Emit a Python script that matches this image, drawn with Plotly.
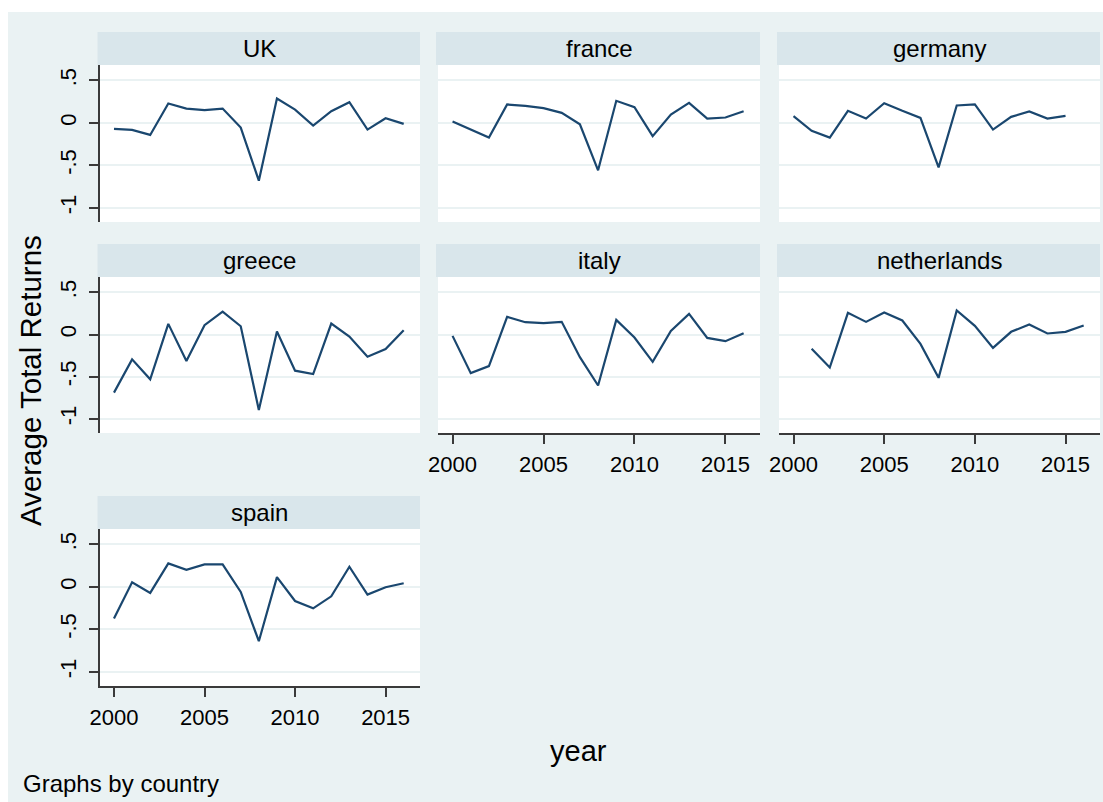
import plotly.graph_objects as go

# Average total returns by country and year
years = list(range(2000, 2017))

uk = [-0.071, -0.083, -0.142, 0.228, 0.169, 0.150, 0.169, -0.055, -0.681,
      0.287, 0.157, -0.031, 0.138, 0.244, -0.079, 0.055, -0.012]
france = [0.016, -0.079, -0.173, 0.217, 0.200, 0.173, 0.118, -0.016, -0.559,
          0.260, 0.185, -0.157, 0.098, 0.236, 0.051, 0.063, 0.138]
germany = [0.079, -0.094, -0.173, 0.142, 0.051, 0.232, 0.142, 0.059, -0.524,
           0.205, 0.217, -0.079, 0.071, 0.134, 0.051, 0.083, None]
greece = [-0.689, -0.295, -0.531, 0.126, -0.315, 0.110, 0.272, 0.098, -0.894,
          0.035, -0.429, -0.469, 0.130, -0.024, -0.264, -0.173, 0.051]
italy = [-0.016, -0.458, -0.375, 0.209, 0.146, 0.134, 0.150, -0.269, -0.605,
         0.174, -0.036, -0.324, 0.043, 0.245, -0.040, -0.079, 0.016]
netherlands = [None, -0.170, -0.391, 0.257, 0.150, 0.261, 0.166, -0.111, -0.514,
               0.285, 0.103, -0.158, 0.032, 0.119, 0.012, 0.032, 0.107]
spain = [-0.372, 0.055, -0.071, 0.277, 0.202, 0.265, 0.265, -0.059, -0.640,
         0.115, -0.166, -0.253, -0.111, 0.237, -0.091, -0.004, 0.043]

countries = ["UK", "france", "germany", "greece", "italy", "netherlands", "spain"]
series = [uk, france, germany, greece, italy, netherlands, spain]

y_ticks = [-1, -0.5, 0, 0.5]
y_tick_text = ["-1", "-.5", "0", ".5"]
x_ticks = [2000, 2005, 2010, 2015]
x_tick_text = ["2000", "2005", "2010", "2015"]

W, H = 1103, 802
FONT = "Liberation Sans, Arial, sans-serif"
BG = "#EAF2F3"
STRIP = "#D9E6EB"
LINE = "#1A476F"
AXIS = "#3a3a3a"

# panel geometry in pixels
col_x = [(99.5, 420), (438, 760), (779, 1100)]
row_plot = [(65, 222), (277, 433), (529, 686)]
row_strip = [(32, 65), (244, 277), (496, 529)]
position = [(0, 0), (0, 1), (0, 2), (1, 0), (1, 1), (1, 2), (2, 0)]
shows_x = {"italy", "netherlands", "spain"}

fig = go.Figure()
layout = dict(
    width=W, height=H,
    margin=dict(l=0, r=0, t=0, b=0, pad=0, autoexpand=False),
    paper_bgcolor="white",
    plot_bgcolor="white",
    showlegend=False,
    font=dict(family=FONT, color="black"),
)
shapes = [dict(type="rect", xref="paper", yref="paper",
               x0=8 / W, x1=1, y0=0, y1=1 - 12 / H,
               fillcolor=BG, line=dict(width=0), layer="below")]
annotations = []

for i, (name, vals) in enumerate(zip(countries, series)):
    r, c = position[i]
    idx = "" if i == 0 else str(i + 1)
    fig.add_trace(go.Scatter(
        x=years, y=vals, mode="lines",
        line=dict(color=LINE, width=2.2),
        connectgaps=False,
        xaxis="x" + idx, yaxis="y" + idx,
    ))
    x0, x1 = col_x[c]
    p0, p1 = row_plot[r]
    s0, s1 = row_strip[r]
    # white plot region
    shapes.append(dict(type="rect", xref="paper", yref="paper",
                       x0=x0 / W, x1=x1 / W, y0=1 - p1 / H, y1=1 - p0 / H,
                       fillcolor="white", line=dict(width=0), layer="below"))
    # title strip
    shapes.append(dict(type="rect", xref="paper", yref="paper",
                       x0=(x0 - 2) / W, x1=x1 / W, y0=1 - s1 / H, y1=1 - s0 / H,
                       fillcolor=STRIP, line=dict(width=0), layer="below"))
    annotations.append(dict(text=name, xref="paper", yref="paper",
                            x=(x0 + x1) / 2 / W, y=1 - (s0 + s1) / 2 / H,
                            xanchor="center", yanchor="middle", showarrow=False,
                            font=dict(size=24, family=FONT, color="black")))
    show_x = name in shows_x
    layout["xaxis" + idx] = dict(
        domain=[x0 / W, x1 / W], anchor="y" + idx, automargin=False,
        range=[1999.2, 2016.9], showgrid=False, zeroline=False,
        showline=show_x, linecolor=AXIS, linewidth=1.5,
        ticks="outside" if show_x else "", ticklen=9, tickwidth=1.5, tickcolor=AXIS,
        tickvals=x_ticks, ticktext=x_tick_text, showticklabels=show_x,
        tickfont=dict(size=22, family=FONT, color="black"),
        ticklabelstandoff=2,
    )
    first_col = c == 0
    layout["yaxis" + idx] = dict(
        domain=[1 - p1 / H, 1 - p0 / H], anchor="x" + idx, automargin=False,
        range=[-1.168, 0.682], showgrid=True, gridcolor=BG, gridwidth=1.5,
        zeroline=False,
        showline=first_col, linecolor=AXIS, linewidth=1.5,
        ticks="outside" if first_col else "", ticklen=9, tickwidth=1.5, tickcolor=AXIS,
        tickvals=y_ticks, ticktext=y_tick_text, showticklabels=first_col,
        tickangle=-90, tickfont=dict(size=22, family=FONT, color="black"),
        ticklabelstandoff=4,
    )

annotations.append(dict(text="Average Total Returns", xref="paper", yref="paper",
                        x=30 / W, y=1 - 381 / H, textangle=-90,
                        xanchor="center", yanchor="middle", showarrow=False,
                        font=dict(size=29.5, family=FONT, color="black")))
annotations.append(dict(text="year", xref="paper", yref="paper",
                        x=578 / W, y=1 - 751 / H,
                        xanchor="center", yanchor="middle", showarrow=False,
                        font=dict(size=29, family=FONT, color="black")))
annotations.append(dict(text="Graphs by country", xref="paper", yref="paper",
                        x=21 / W, y=1 - 783 / H,
                        xanchor="left", yanchor="middle", showarrow=False,
                        font=dict(size=24, family=FONT, color="black")))

layout["shapes"] = shapes
layout["annotations"] = annotations
fig.update_layout(**layout)
fig.write_html("out.html")
